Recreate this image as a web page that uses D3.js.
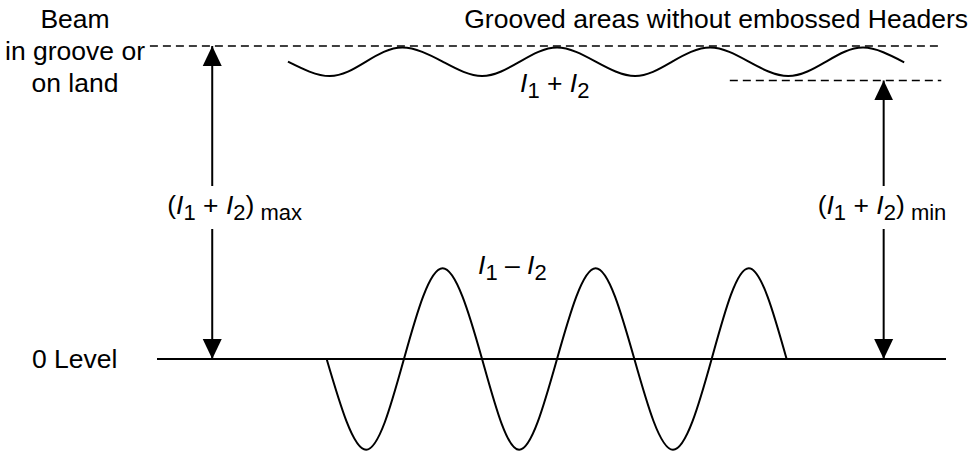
<!DOCTYPE html>
<html>
<head>
<meta charset="utf-8">
<script src="https://cdn.jsdelivr.net/npm/d3@7"></script>
<style>
  body { margin: 0; background: #fff; }
  svg { display: block; font-family: "Liberation Sans", Arial, sans-serif; }
</style>
</head>
<body>
<div id="chart"></div>
<script>
// track position (0 = start of 0 level line, 100 = its end) and signal level (0 level = 0, beam max = 100)
const sumPos = [16.6, 21.9, 26.5, 31.1, 36.2, 41.2, 46.0, 50.7, 55.6, 60.6, 65.3, 70.1, 75.0, 80.0, 84.8, 89.5, 94.7];
const sumVal = [95, 90.4, 95, 99.5, 95, 90.4, 95, 99.5, 95, 90.4, 95, 99.5, 95, 90.4, 95, 99.5, 94.8];

const diffPos = [21.5, 26.5, 31.3, 36.2, 41.2, 45.9, 50.7, 55.6, 60.5, 65.4, 70.3, 75.0, 79.8];
const diffVal = [0, -29, 0, 29, 0, -29, 0, 29, 0, -29, 0, 29, 0];

const levelNames = ['max', 'min'];
const levelVal = [100, 89];
const levelFrom = [-0.9, 72.6];
const levelTo = [99.6, 99.4];
const arrowPos = [7.0, 92.1];
const zeroSpan = [0, 100];

const cornerLines = ['Beam', 'in groove or', 'on land'];
const headerText = 'Grooved areas without embossed Headers';
const zeroText = '0 Level';
// [text, kind]  kind: i = italic, s = subscript
const sumLabel = [['I', 'i'], ['1', 's'], [' + ', ''], ['I', 'i'], ['2', 's']];
const diffLabel = [['I', 'i'], ['1', 's'], [' \u2013 ', ''], ['I', 'i'], ['2', 's']];
const rangeLabel = name => [['(', ''], ['I', 'i'], ['1', 's'], [' + ', ''], ['I', 'i'], ['2', 's'], [')', ''], [' ' + name, 's']];

const width = 977;
const height = 453;
const fontSize = 26.5;
const subSize = 22;
const subShift = 6;

const x = d3.scaleLinear().domain([0, 100]).range([157, 946]);
const y = d3.scaleLinear().domain([0, 100]).range([359, 46]);

const svg = d3.select('#chart').append('svg')
    .attr('width', width)
    .attr('height', height)
    .attr('viewBox', `0 0 ${width} ${height}`);

svg.append('defs').append('marker')
    .attr('id', 'head')
    .attr('viewBox', '0 0 20 20')
    .attr('refX', 20)
    .attr('refY', 10)
    .attr('markerUnits', 'userSpaceOnUse')
    .attr('markerWidth', 20)
    .attr('markerHeight', 20)
    .attr('orient', 'auto-start-reverse')
  .append('path')
    .attr('d', 'M0,0.5L20,10L0,19.5Z')
    .attr('fill', '#000');

const richText = (g, parts, px, py, anchor) => {
    const t = g.append('text')
        .attr('x', px)
        .attr('y', py)
        .attr('font-size', fontSize)
        .attr('text-anchor', anchor || 'start')
        .attr('fill', '#000')
        .style('white-space', 'pre');
    let shifted = 0;
    parts.forEach(([s, kind]) => {
        const want = kind === 's' ? subShift : 0;
        t.append('tspan')
            .attr('dy', want - shifted)
            .attr('font-size', kind === 's' ? subSize : fontSize)
            .attr('font-style', kind === 'i' ? 'italic' : 'normal')
            .text(s);
        shifted = want;
    });
    return t;
};

// 0 level line
svg.append('line')
    .attr('x1', x(zeroSpan[0])).attr('x2', x(zeroSpan[1]))
    .attr('y1', y(0)).attr('y2', y(0))
    .attr('stroke', '#000').attr('stroke-width', 2);

// max / min dashed levels
levelNames.forEach((n, i) => {
    svg.append('line')
        .attr('x1', x(levelFrom[i])).attr('x2', x(levelTo[i]))
        .attr('y1', y(levelVal[i])).attr('y2', y(levelVal[i]))
        .attr('stroke', '#000').attr('stroke-width', 1.6)
        .attr('stroke-dasharray', '8,5');
});

const line = d3.line()
    .x(d => x(d[0]))
    .y(d => y(d[1]))
    .curve(d3.curveNatural);

svg.append('path')
    .attr('d', line(d3.zip(sumPos, sumVal)))
    .attr('fill', 'none').attr('stroke', '#000').attr('stroke-width', 2);

svg.append('path')
    .attr('d', line(d3.zip(diffPos, diffVal)))
    .attr('fill', 'none').attr('stroke', '#000').attr('stroke-width', 2);

// double arrows with their labels
const labelShift = [-45, -66];
levelNames.forEach((n, i) => {
    svg.append('line')
        .attr('x1', x(arrowPos[i])).attr('x2', x(arrowPos[i]))
        .attr('y1', y(levelVal[i])).attr('y2', y(0))
        .attr('stroke', '#000').attr('stroke-width', 2)
        .attr('marker-start', 'url(#head)')
        .attr('marker-end', 'url(#head)');
    const g = svg.append('g');
    const t = richText(g, rangeLabel(n), x(arrowPos[i]) + labelShift[i], 214);
    const b = t.node().getBBox();
    g.insert('rect', 'text')
        .attr('x', b.x - 2).attr('y', b.y - 4)
        .attr('width', b.width + 4).attr('height', b.height + 8)
        .attr('fill', '#fff');
});

// texts
cornerLines.forEach((s, i) => {
    svg.append('text')
        .attr('x', 75).attr('y', 28 + i * 32)
        .attr('font-size', fontSize)
        .attr('text-anchor', 'middle')
        .text(s);
});

svg.append('text')
    .attr('x', 968).attr('y', 28)
    .attr('font-size', fontSize)
    .attr('text-anchor', 'end')
    .text(headerText);

svg.append('text')
    .attr('x', 32).attr('y', y(0) + 9)
    .attr('font-size', fontSize)
    .text(zeroText);

richText(svg, sumLabel, 520, 92);
richText(svg, diffLabel, 478, 274);
</script>
</body>
</html>
